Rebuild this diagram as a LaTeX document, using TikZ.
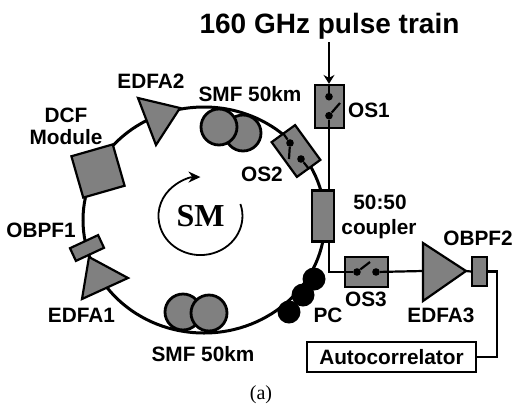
\documentclass[tikz,border=0pt]{standalone}
\usepackage{fontspec}
\setmainfont{Liberation Sans}
\newfontfamily\serifpart{Liberation Serif}
\usetikzlibrary{arrows.meta, shapes.geometric, calc}
\definecolor{partgray}{RGB}{128,128,128}
\tikzset{
  ring/.style={ellipse, draw=black, line width=1.5pt, inner sep=0pt},
  wire/.style={draw=black, line width=1.1pt},
  part/.style={rectangle, draw=black, line width=1.1pt, fill=partgray, inner sep=0pt},
  amp/.style={draw=black, line width=1.1pt, fill=partgray, line join=miter},
  spool/.style={circle, draw=black, line width=1.4pt, fill=partgray, inner sep=0pt, minimum size=18pt},
  paddle/.style={circle, fill=black, inner sep=0pt, minimum size=11.5pt},
  contact/.style={circle, fill=black, inner sep=0pt, minimum size=3.8pt},
  label/.style={anchor=base, inner sep=0pt, font=\fontsize{10.4}{12.5}\selectfont\bfseries},
}

\begin{document}
\begin{tikzpicture}[x=0.5pt, y=-0.5pt]
    \useasboundingbox (0,0) rectangle (515,403);

    % fibre loop
    \node[ring, minimum width=121pt, minimum height=113pt] (loop) at (204,220) {};

    % spools
    \node[spool] (smftopb) at (243,133) {};
    \node[spool] (smftopa) at (219,127) {};
    \node[spool] (smfbota) at (183,312) {};
    \node[spool] (smfbotb) at (209,313) {};

    % polarization controller
    \foreach \name/\x/\y in {pca/314/279, pcb/303/295, pcc/289/312}{
      \node[paddle] (\name) at (\x,\y) {};
    }

    % amplifiers
    \foreach \name/\ax/\ay/\bx/\by/\tx/\ty in {
      edfaone/82/299/89/257/128/278,
      edfatwo/138/98/156/145/180/108,
      edfathree/423/243/423/301/466/271}{
      \coordinate (\name a) at (\ax,\ay);
      \coordinate (\name b) at (\bx,\by);
      \coordinate (\name tip) at (\tx,\ty);
      \draw[amp] (\name a) -- (\name b) -- (\name tip) -- cycle;
    }

    % boxes
    \node[part, rotate=16, minimum width=21.5pt, minimum height=21.5pt] (dcf) at (98,171) {};
    \node[part, rotate=25, minimum width=15.5pt, minimum height=7pt] (obpfone) at (87,248) {};
    \node[part, minimum width=11pt, minimum height=25.5pt] (coupler) at (323,216) {};
    \node[part, minimum width=7.5pt, minimum height=14.5pt] (obpftwo) at (479.5,271.5) {};
    \node[part, minimum width=14.5pt, minimum height=21.5pt] (osone) at (329.5,106.5) {};
    \node[part, rotate=-54, minimum width=21.5pt, minimum height=14.5pt] (ostwo) at (296,151) {};
    \node[part, minimum width=21.5pt, minimum height=15pt] (osthree) at (366.5,272) {};
    \node[rectangle, draw=black, line width=1.1pt, inner sep=0pt, minimum width=84.5pt, minimum height=15pt,
          font=\fontsize{10.4}{12.5}\selectfont\bfseries] (autocorr) at (391.5,357) {Autocorrelator};

    % switch contacts
    \foreach \name/\x/\y in {
      osonea/329/96.7, osoneb/329/115.7,
      ostwoa/290/143, ostwob/301/159,
      osthreea/357/272, osthreeb/376/272}{
      \node[contact] (\name) at (\x,\y) {};
    }
    \coordinate (pulsein) at (329,42);
    \coordinate (osonearm) at (340,103);
    \coordinate (ostwoarm) at (289,159);
    \coordinate (osthreearm) at (370,262);
    \coordinate (edfathreein) at (423,271);
    \coordinate (turn) at (497,314);

    % connections
    \draw[wire, -{Stealth[length=4.5pt, width=5.5pt, inset=1.5pt]}] (pulsein) -- (osone.north -| pulsein);
    \draw[wire] (osonea) -- (osonea |- osone.north);
    \draw[wire] (osoneb) -- (osonearm);
    \draw[wire] (osoneb) -- (osoneb |- coupler.north);
    \draw[wire] (ostwo.west) -- (ostwoa);
    \draw[wire] (ostwoa) -- (ostwoarm);
    \draw[wire] (ostwob) -- (ostwo.east);
    \draw[wire] (coupler.south -| osoneb) |- (osthreea);
    \draw[wire] (osthreea) -- (osthreearm);
    \draw[wire] (osthreeb) -- (edfathreein);
    \draw[wire] (edfathreetip) -- (obpftwo.west);
    \draw[wire] (obpftwo.east) -| (turn) |- (autocorr.east);

    % circulation sign
    \coordinate (smstart) at (240.4,204);
    \draw[line width=0.9pt, -{Stealth[length=6pt, width=5.5pt]}] (smstart) arc[start angle=18, end angle=-270, x radius=21pt, y radius=19.5pt];
    \node[inner sep=0pt, font=\serifpart\fontsize{16}{16}\selectfont\bfseries] (smlabel) at (200.5,216.5) {SM};

    % texts
    \node[anchor=base, inner sep=0pt, font=\fontsize{14}{16}\selectfont\bfseries] (title) at (329.5,33) {160 GHz pulse train};
    \foreach \name/\x/\y/\txt in {
      lbledfatwo/151/88/EDFA2,
      lbldcf/66/122/DCF,
      lblmodule/66/144/Module,
      lblsmftop/250/101/SMF 50km,
      lblostwo/262/181/OS2,
      lblosone/369/117/OS1,
      lblratio/380/209/50:50,
      lblcoupler/379/234/coupler,
      lblobpftwo/478/245/OBPF2,
      lblosthree/366/306/OS3,
      lbledfathree/441/322/EDFA3,
      lblpc/328/322/PC,
      lblobpfone/41/237/OBPF1,
      lbledfaone/81.5/322/EDFA1,
      lblsmfbot/203/361/SMF 50km}{
      \node[label] (\name) at (\x,\y) {\txt};
    }
    \node[anchor=base, inner sep=0pt, font=\serifpart\fontsize{10}{12}\selectfont] (caption) at (261,399) {(a)};
  \end{tikzpicture}
\end{document}
